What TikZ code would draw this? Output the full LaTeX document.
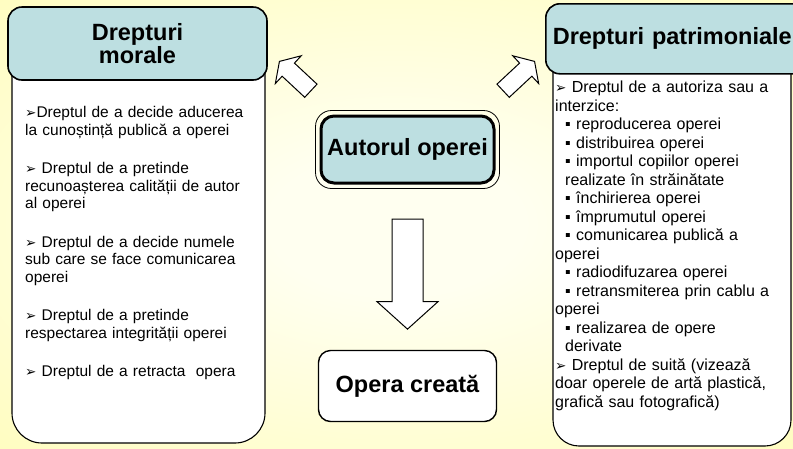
\documentclass[tikz,border=0pt]{standalone}
\usepackage{fontspec}
\setmainfont{Liberation Sans}
\newfontfamily\dingfont{DejaVu Sans}
\usetikzlibrary{shapes.arrows}

\definecolor{headfill}{RGB}{189,223,225}
\definecolor{bginner}{RGB}{255,255,240}
\definecolor{bgouter}{RGB}{255,252,175}
\pgfdeclareradialshading{bgshade}{\pgfpoint{0bp}{0bp}}{color(0bp)=(bginner); color(8bp)=(bginner); color(46bp)=(bgouter); color(75bp)=(bgouter)}
\newcommand{\pointer}{{\dingfont\fontsize{13.5}{13.5}\selectfont ➢}}
\newcommand{\ind}{\hspace*{10pt}}

\begin{document}
\begin{tikzpicture}[x=1pt,y=-1pt,
    headbox/.style={draw,line width=1.6pt,fill=headfill,rounded corners=14pt,font=\fontsize{23.5}{21}\selectfont\bfseries},
    bodybox/.style={draw,line width=1.1pt,fill=white},
    bodytext/.style={anchor=north west,inner sep=0pt,align=left},
    blockarrow/.style={single arrow,draw,fill=white,line width=1pt,inner sep=0pt}]
        \useasboundingbox (0,0) rectangle (793,448);
        \fill[shading=bgshade] (0,0) rectangle (793,448);
        \clip (0,0) rectangle (793,448);

        % left column
        \draw[bodybox,rounded corners=30pt] (12,40) rectangle (265,443);
        \node[headbox,minimum width=259,minimum height=73,align=center] (morale) at (137.5,43.5) {Drepturi\\morale};
        \node[bodytext,text width=245,font=\fontsize{15.5}{17.5}\selectfont] (stanga) at (25,106.5) {%
\pointer Dreptul de a decide aducerea\\la cunoștință publică a operei\\[21pt]%
\pointer\ Dreptul de a pretinde\\recunoașterea calității de autor\\al operei\\[21pt]%
\pointer\ Dreptul de a decide numele\\sub care se face comunicarea\\operei\\[21pt]%
\pointer\ Dreptul de a pretinde\\respectarea integrității operei\\[21pt]%
\pointer\ Dreptul de a retracta~ opera};

        % right column
        \draw[bodybox,rounded corners=26pt] (553,30) rectangle (791,446);
        \node[headbox,anchor=north west,minimum width=275,minimum height=70,inner xsep=7pt,text width=261,align=left] (patrim) at (545,3) {Drepturi patrimoniale};
        \node[bodytext,text width=236,font=\fontsize{16}{18.5}\selectfont] (dreapta) at (555,81) {%
\pointer\ Dreptul de a autoriza sau a\\interzice:\\%
\ind▪ reproducerea operei\\\ind▪ distribuirea operei\\%
\ind▪ importul copiilor operei\\\ind realizate în străinătate\\%
\ind▪ închirierea operei\\\ind▪ împrumutul operei\\%
\ind▪ comunicarea publică a\\operei\\%
\ind▪ radiodifuzarea operei\\%
\ind▪ retransmiterea prin cablu a\\operei\\%
\ind▪ realizarea de opere\\\ind derivate\\%
\pointer\ Dreptul de suită (vizează\\doar operele de artă plastică,\\grafică sau fotografică)};

        % centre
        \node[draw,line width=3pt,fill=headfill,rounded corners=13pt,minimum width=173,minimum height=67,font=\fontsize{23.5}{21}\selectfont\bfseries] (autor) at (407.5,149.5) {Autorul operei};
        \draw[line width=0.8pt,rounded corners=16pt] ([xshift=-4pt,yshift=-4pt]autor.south west) rectangle ([xshift=4pt,yshift=4pt]autor.north east);
        \node[draw,line width=1.4pt,fill=white,rounded corners=12pt,minimum width=178,minimum height=71,font=\fontsize{23.5}{21}\selectfont\bfseries] (opera) at (407.5,386) {Opera creată};

        \node[blockarrow,rotate=-90,anchor=tip,minimum height=110,inner ysep=15pt,single arrow head extend=15pt,single arrow tip angle=96] (jos) at ([yshift=20pt]opera.north) {};
        \node[blockarrow,rotate=137,anchor=tip,minimum height=43,inner ysep=8.5pt,single arrow head extend=10pt,single arrow tip angle=115] (spre morale) at (279,61) {};
        \node[blockarrow,rotate=43,anchor=tip,minimum height=43,inner ysep=8.5pt,single arrow head extend=10pt,single arrow tip angle=115] (spre patrim) at (535,61) {};
\end{tikzpicture}
\end{document}
